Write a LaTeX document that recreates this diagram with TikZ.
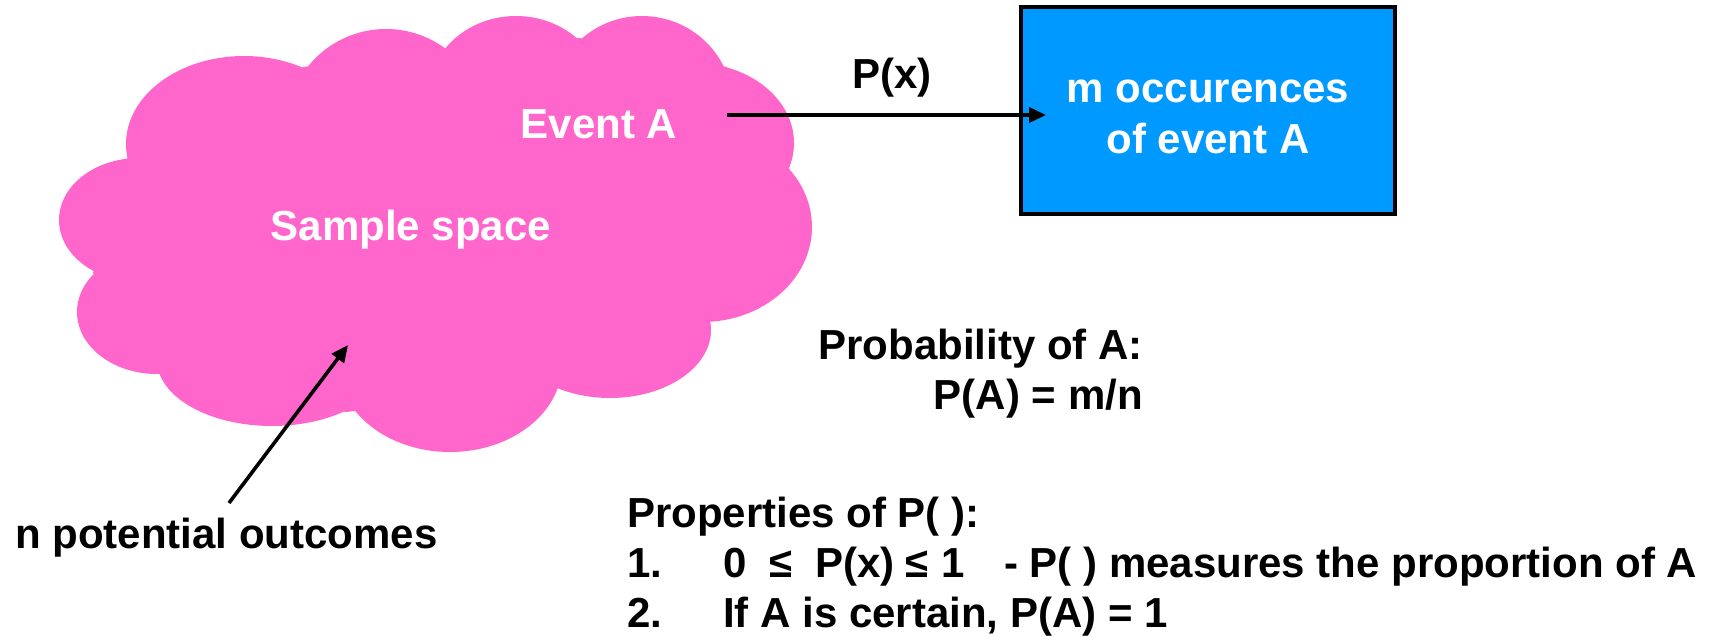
\documentclass[tikz,border=0pt]{standalone}
\usepackage{fontspec}
\setmainfont{Liberation Sans}
\usetikzlibrary{arrows.meta,calc}
\definecolor{cloudpink}{RGB}{255,102,204}
\definecolor{boxblue}{RGB}{0,153,255}
\begin{document}
\begin{tikzpicture}[x=1pt,y=-1pt,
  txt/.style={inner sep=0pt,font=\fontsize{42}{51}\selectfont\bfseries},
  wtxt/.style={txt,text=white},
  arr/.style={line width=3.6pt,-{Triangle[length=17pt,width=15pt]}},
  occbox/.style={draw=black,line width=4pt,fill=boxblue,minimum width=374pt,minimum height=207pt,inner sep=0pt}]
\useasboundingbox (0,0) rectangle (1725,637);
% cloud: union of elliptic bumps and a core polygon
\fill[cloudpink]
  (126,159) -- (303,67) -- (450,48) -- (579,38) -- (727,67) -- (790,170) -- (710,320)
  -- (557,388) -- (346,412) -- (161,373) -- (93,273) -- cycle
  (244,144) ellipse [x radius=118, y radius=88]
  (386,129) circle [radius=100]
  (516,96) ellipse [x radius=88, y radius=80]
  (642,106) ellipse [x radius=91, y radius=90]
  (694,143) ellipse [x radius=100, y radius=80]
  (702,227) ellipse [x radius=110, y radius=95]
  (610,330) ellipse [x radius=101, y radius=68]
  (450,364) ellipse [x radius=112, y radius=88]
  (272,360) ellipse [x radius=115, y radius=66]
  (157,312) ellipse [x radius=80, y radius=62]
  (139,220) ellipse [x radius=80, y radius=62];
\node[wtxt,anchor=base] (evA) at (599,138) {Event A};
\node[wtxt,anchor=base] (ss) at (411,240) {Sample space};
% box
\node[occbox] (box) at (1208,110.5) {};
\node[wtxt,anchor=base] (occ1) at (1208,102) {m occurences};
\node[wtxt,anchor=base] (occ2) at (1208,153) {of event A};
% top arrow
\coordinate (a0) at (727,115);
\draw[arr] (a0) -- ($(box.west|-a0)+(27,0)$);
\node[txt,anchor=base] (px) at (892,88) {P(x)};
% outcomes
\node[txt,anchor=base west] (outc) at (15,548) {n potential outcomes};
\coordinate (n0) at (229,503);
\coordinate (n1) at (348,345);
\draw[arr] (n0) -- (n1);
% probability
\node[txt,anchor=base east] (prob) at (1143,359) {Probability of A:};
\node[txt,anchor=base east] (pam) at (1143,409) {P(A) = m/n};
% properties
\node[txt,anchor=base west] (props) at (627,527) {Properties of P( ):};
\node[txt,anchor=base west] (l1n) at (627,577) {1.};
\node[txt,anchor=base west] (l1a) at (723,577) {0};
\node[txt,anchor=base west] (l1b) at (769,577) {≤};
\node[txt,anchor=base west] (l1c) at (815,577) {P(x)};
\node[txt,anchor=base west] (l1d) at (905,577) {≤};
\node[txt,anchor=base west] (l1e) at (941,577) {1};
\node[txt,anchor=base west] (l1f) at (1004,577) {- P( ) measures the proportion of A};
\node[txt,anchor=base west] (l2n) at (627,627) {2.};
\node[txt,anchor=base west] (l2a) at (723,627) {If A is certain, P(A) = 1};
\end{tikzpicture}
\end{document}
